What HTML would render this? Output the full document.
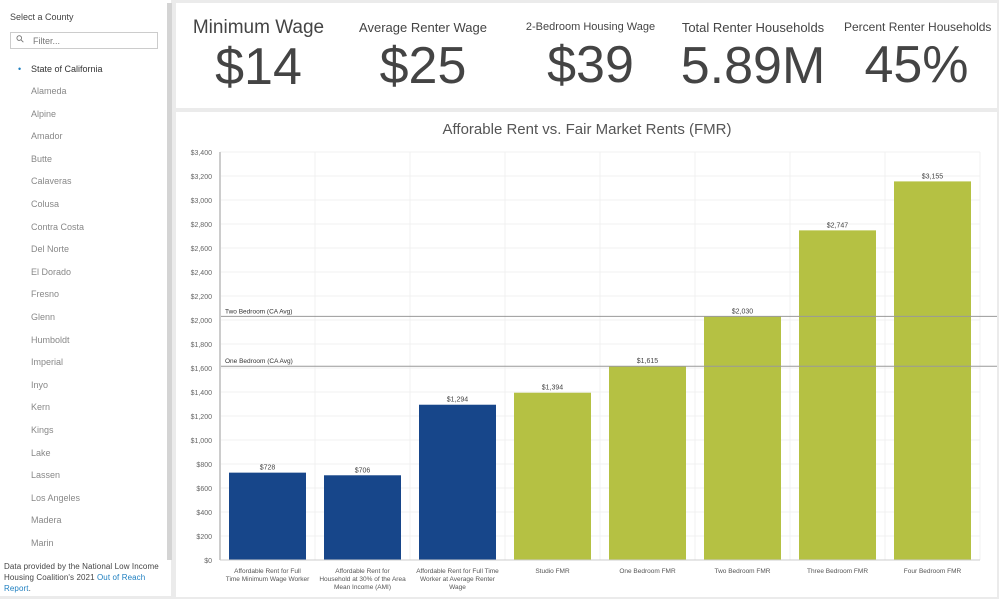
<!DOCTYPE html>
<html><head><meta charset="utf-8"><style>
body{margin:0;width:999px;height:599px;background:#ebebeb;font-family:"Liberation Sans",sans-serif;position:relative;overflow:hidden}
.side{position:absolute;left:0;top:0;width:171px;height:596px;background:#fff}
.scroll{position:absolute;left:167px;top:3px;width:5px;height:557px;background:#d4d4d4}
.side h4{margin:0;position:absolute;left:10px;top:12px;font-size:9px;font-weight:normal;color:#444}
.filter{position:absolute;left:10px;top:32px;width:148px;height:17px;border:1px solid #ccc;box-sizing:border-box;font-size:9px;color:#777;padding:3px 0 0 22px}
.filter:before{content:"⚲";position:absolute;left:6px;top:1px;font-size:10px;transform:rotate(-45deg)}
.item{position:absolute;left:31px;font-size:9px;color:#888}
.note{position:absolute;left:4px;top:561px;width:165px;font-size:8px;color:#444;line-height:11px;letter-spacing:0.1px}
.note a{color:#1e7fc0;text-decoration:none}
.kpi{position:absolute;left:176px;top:3px;width:821px;height:105px;background:#fff}
.k{position:absolute;top:14px;text-align:center;color:#444}
.k .l{font-size:13px;white-space:nowrap}
.k .v{font-size:52px;line-height:52px;margin-top:0}
.chart{position:absolute;left:176px;top:112px;width:821px;height:485px;background:#fff}
</style></head><body>
<div class="side">
<h4>Select a County</h4>
<div class="filter">Filter...</div>
<div class="item" style="top:64px;color:#333;left:31px"><span style="position:absolute;left:-13px;color:#1e7fc0">•</span>State of California</div>
<div id="list"></div>
<div class="scroll"></div>
<div class="note">Data provided by the National Low Income Housing Coalition's 2021 <a>Out of Reach Report</a>.</div>
</div>
<div class="kpi">
<div class="k" style="left:14px;width:137px"><div class="l" style="font-size:19px">Minimum Wage</div><div class="v" style="margin-top:2px">$14</div></div>
<div class="k" style="left:172px;width:150px"><div class="l" style="margin-top:3px">Average Renter Wage</div><div class="v" style="margin-top:5px">$25</div></div>
<div class="k" style="left:337px;width:155px"><div class="l" style="margin-top:4px;font-size:11px">2-Bedroom Housing Wage</div><div class="v" style="margin-top:6px">$39</div></div>
<div class="k" style="left:502px;width:150px"><div class="l" style="margin-top:3px">Total Renter Households</div><div class="v" style="margin-top:5px">5.89M</div></div>
<div class="k" style="left:668px;width:145px"><div class="l" style="margin-top:3px;font-size:12px">Percent Renter Households</div><div class="v" style="margin-top:5px">45%</div></div>
</div>
<div class="chart"></div>
<svg id="svg" width="999" height="599" style="position:absolute;left:0;top:0"></svg>
<script>
const counties=["Alameda","Alpine","Amador","Butte","Calaveras","Colusa","Contra Costa","Del Norte","El Dorado","Fresno","Glenn","Humboldt","Imperial","Inyo","Kern","Kings","Lake","Lassen","Los Angeles","Madera","Marin"];
const categories=[["Affordable Rent for Full","Time Minimum Wage Worker"],["Affordable Rent for","Household at 30% of the Area","Mean Income (AMI)"],["Affordable Rent for Full Time","Worker at Average Renter","Wage"],["Studio FMR"],["One Bedroom FMR"],["Two Bedroom FMR"],["Three Bedroom FMR"],["Four Bedroom FMR"]];
const values=[728,706,1294,1394,1615,2030,2747,3155];
const valueLabels=["$728","$706","$1,294","$1,394","$1,615","$2,030","$2,747","$3,155"];
const refLines=[2030,1615];
const refLabels=["Two Bedroom (CA Avg)","One Bedroom (CA Avg)"];
const ticks=[0,200,400,600,800,1000,1200,1400,1600,1800,2000,2200,2400,2600,2800,3000,3200,3400];

const list=document.getElementById('list');
counties.forEach((c,i)=>{const d=document.createElement('div');d.className='item';d.style.top=(86+i*22.6)+'px';d.textContent=c;


list.appendChild(d);});

const ns="http://www.w3.org/2000/svg",svg=document.getElementById('svg');
const X0=220,X1=980,Y0=560,Y1=152,MAX=3400;
const y=v=>Y0-(v/MAX)*(Y0-Y1);
const bw=(X1-X0)/categories.length;
const xc=i=>X0+bw*(i+0.5);
function el(t,a,txt){const e=document.createElementNS(ns,t);for(const k in a)e.setAttribute(k,a[k]);if(txt!==undefined)e.textContent=txt;svg.appendChild(e);return e;}
const title=el('text',{x:587,y:134,'text-anchor':'middle','font-size':15,fill:'#555'},'Afforable Rent vs. Fair Market Rents (FMR)');


ticks.forEach(t=>{const g=el('line',{x1:X0,x2:X1,y1:y(t),y2:y(t),stroke:'#f0f0f0'});


const l=el('text',{x:X0-8,y:y(t)+3,'text-anchor':'end','font-size':7,fill:'#666'},'$'+t.toLocaleString('en-US'));

});
for(let i=1;i<=categories.length;i++){const g=el('line',{x1:X0+bw*i,x2:X0+bw*i,y1:Y1,y2:Y0,stroke:'#f0f0f0'});

}
values.forEach((v,i)=>{const b=el('rect',{x:xc(i)-38.5,y:y(v),width:77,height:Y0-y(v),fill:i<3?'#17468a':'#b5c143'});


const t=el('text',{x:xc(i),y:y(v)-3,'text-anchor':'middle','font-size':7,fill:'#444'},valueLabels[i]);


categories[i].forEach((ln,j)=>{const c=el('text',{x:xc(i),y:573+j*8,'text-anchor':'middle','font-size':6.5,fill:'#555'},ln);

});});
refLines.forEach((v,i)=>{const l=el('line',{x1:X0,x2:X1+17,y1:y(v),y2:y(v),stroke:'#999'});


const t=el('text',{x:X0+5,y:y(v)-3,'font-size':6.5,fill:'#333'},refLabels[i]);

});
const ax=el('line',{x1:X0,x2:X0,y1:Y1,y2:Y0,stroke:'#ccc','stroke-width':2});


const bx=el('line',{x1:X0,x2:X1,y1:Y0,y2:Y0,stroke:'#ccc'});


</script>
</body></html>
